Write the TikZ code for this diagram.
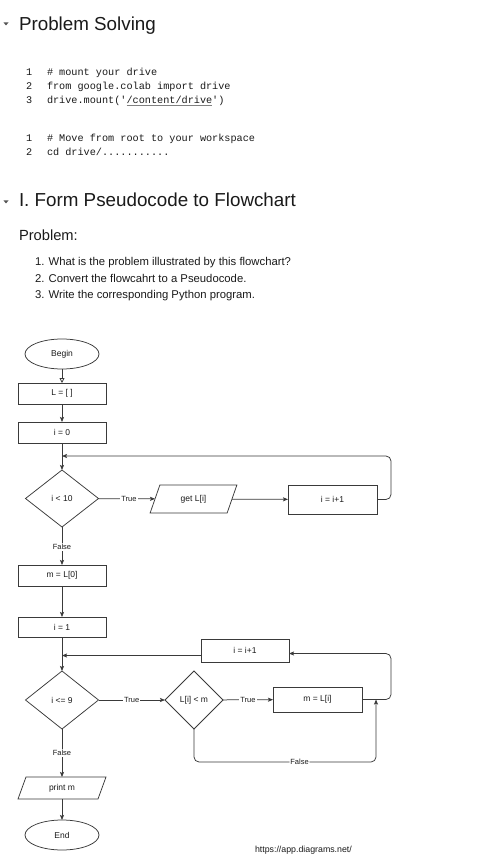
\documentclass[tikz,border=0pt]{standalone}
\usepackage{fontspec}
\setmainfont{Liberation Sans}
\setmonofont{Liberation Mono}
\usetikzlibrary{shapes.geometric, arrows.meta}
\newcommand\fsz[1]{\fontsize{#1pt}{#1pt}\selectfont}
\definecolor{linec}{HTML}{3A3A3A}
\definecolor{txt}{HTML}{1A1A1A}
\definecolor{tri}{HTML}{555555}
\begin{document}
\begin{tikzpicture}[x=1pt,y=-1pt,
  every node/.style={inner sep=0pt, outer sep=0pt, text=txt},
  box/.style={draw=linec, line width=0.75pt, rectangle, minimum width=88pt, minimum height=21pt, font=\fsz{8.5}},
  term/.style={draw=linec, line width=0.75pt, ellipse, minimum width=74pt, minimum height=30pt, font=\fsz{8.5}},
  dec/.style={draw=linec, line width=0.75pt, diamond, minimum width=73pt, minimum height=57pt, font=\fsz{8.5}},
  io/.style={draw=linec, line width=0.75pt, trapezium, trapezium stretches=true, font=\fsz{8.5}},
  arr/.style={draw=linec, line width=0.75pt, -{Stealth[length=5pt,width=4pt,inset=1pt]}},
  lbl/.style={fill=white, inner sep=1pt, font=\fsz{7.5}},
  codeln/.style={anchor=mid west, font=\ttfamily\fsz{10.2}},
  heading/.style={anchor=base west, font=\fsz{18.8}},
]
\useasboundingbox[fill=white] (0,0) rectangle (488,866);

% headings
\fill[tri] (3.5,22.5) -- (8.5,22.5) -- (6,25.5) -- cycle;
\node[heading] (h1) at (19,31) {Problem Solving};

% code block 1
\node[codeln] (n1) at (26,73) {1};
\node[codeln] (n2) at (26,87) {2};
\node[codeln] (n3) at (26,101) {3};
\node[codeln] (c1) at (47,73) {\# mount your drive};
\node[codeln] (c2) at (47,87) {from google.colab import drive};
\node[codeln] (c3) at (47,101) {drive.mount('/content/drive')};
\draw[gray, line width=0.6pt] (126.5,105.5) -- (211.5,105.5);

% code block 2
\node[codeln] (n4) at (26,139) {1};
\node[codeln] (n5) at (26,153) {2};
\node[codeln] (c4) at (47,139) {\# Move from root to your workspace};
\node[codeln] (c5) at (47,153) {cd drive/...........};

\fill[tri] (3.5,200.5) -- (8.5,200.5) -- (6,203.5) -- cycle;
\node[heading] (h2) at (19,207) {I. Form Pseudocode to Flowchart};

\node[anchor=mid west, font=\fsz{14.7}] (prob) at (19,238) {Problem:};
\node[anchor=mid west, font=\fsz{11.3}] (q1) at (35,263) {1. What is the problem illustrated by this flowchart?};
\node[anchor=mid west, font=\fsz{11.3}] (q2) at (35,279.5) {2. Convert the flowcahrt to a Pseudocode.};
\node[anchor=mid west, font=\fsz{11.3}] (q3) at (35,296) {3. Write the corresponding Python program.};

% flowchart
\node[term] (begin) at (62,354) {Begin};
\node[box] (L0) at (62,393.5) {L = [ ]};
\node[box] (i0) at (62,432.5) {i = 0};
\node[dec] (d1) at (62,498.5) {i < 10};
\node[io, trapezium left angle=65, trapezium right angle=115, minimum width=87pt, minimum height=28pt] (get) at (193.5,499) {get L[i]};
\node[box, minimum width=89pt, minimum height=29pt] (inc1) at (332.5,499.5) {i = i+1};
\node[box] (mL0) at (62,575.5) {m = L[0]};
\node[box, minimum height=20pt] (i1) at (62,627) {i = 1};
\node[box, minimum height=23pt] (inc2) at (245,650.5) {i = i+1};
\node[dec, minimum height=58pt] (d2) at (62,700) {i <= 9};
\node[dec, minimum width=58pt, minimum height=58pt] (d3) at (194,700) {L[i] < m};
\node[box, minimum width=89pt, minimum height=25pt] (mLi) at (317.5,699.5) {m = L[i]};
\node[io, trapezium left angle=70, trapezium right angle=110, minimum width=88pt, minimum height=22pt] (printm) at (62,788) {print m};
\node[term] (end) at (62,835) {End};
\node[anchor=mid west, font=\fsz{8.8}] (url) at (255,850) {https://app.diagrams.net/};

\coordinate (j1) at (62,456);
\coordinate (j2) at (62,655.5);
\coordinate (j3) at (376,699.5);

\draw[draw=linec, line width=0.75pt, -{Triangle[open,length=5pt,width=5pt]}] (begin) -- (L0);
\draw[arr] (L0) -- (i0);
\draw[arr] (i0) -- (d1);
\draw[arr] (d1) -- node[lbl, pos=0.54]{True} (get);
\draw[arr] (get) -- (inc1);
\draw[arr, rounded corners=5pt] (inc1.east) -- ++(14,0) |- (j1);
\draw[arr] (d1) -- node[lbl, pos=0.53]{False} (mL0);
\draw[arr] (mL0) -- (i1);
\draw[arr] (i1) -- (d2);
\draw[arr] (inc2.west |- j2) -- (j2);
\draw[arr] (d2) -- node[lbl, pos=0.5]{True} (d3);
\draw[arr] (d3) -- node[lbl, pos=0.5]{True} (mLi);
\draw[arr, rounded corners=5pt] (mLi.east) -- ++(29,0) |- ([yshift=-3pt]inc2.east);
\draw[arr, rounded corners=5pt] (d3.south) -- ++(0,33) -| node[lbl, pos=0.29]{False} (j3);
\draw[arr] (d2) -- node[lbl, pos=0.5]{False} (printm);
\draw[arr] (printm) -- (end);
\end{tikzpicture}
\end{document}
